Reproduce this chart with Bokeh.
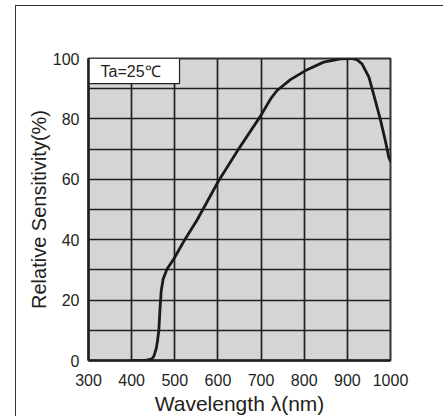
from bokeh.plotting import figure
from bokeh.models import FixedTicker, Range1d
from bokeh.core.properties import value
from bokeh.embed import file_html
from bokeh.resources import INLINE

# ---- data ----
wavelength = [400, 430, 447, 452, 457, 460, 463, 465.5, 468.5, 473, 482, 498,
              521, 552, 602, 648, 699, 722, 737, 768, 803, 845, 884, 910,
              923, 934, 950, 965, 977, 988, 996, 1000]
sensitivity = [0, 0, 0.5, 1.6, 4, 6.5, 10, 16.5, 23, 27, 30.3, 33.7,
               39.5, 46.6, 59.6, 70, 81, 86.6, 89.4, 93, 96, 98.8, 99.9, 100,
               99.5, 98.2, 93.8, 86, 79.5, 72.8, 67.3, 66]
x_ticks = [300, 400, 500, 600, 700, 800, 900, 1000]
y_ticks = [0, 20, 40, 60, 80, 100]
y_grid = [0, 10, 20, 30, 40, 50, 60, 70, 80, 90, 100]
condition_label = "Ta=25℃"

FONT = "Liberation Sans"
TEXT = "#231f20"
GRID = "#231f20"

p = figure(width=428, height=411, output_backend="svg", toolbar_location=None,
           x_range=Range1d(300, 1000), y_range=Range1d(0, 100),
           min_border_left=72, min_border_right=54, min_border_top=52,
           min_border_bottom=57)

# outer panel frame (left/top edges visible in the window)
p.styles = {"margin-left": "15px", "margin-top": "5px",
            "border-left": "1.5px solid #333333",
            "border-top": "1.5px solid #333333"}

p.background_fill_color = "#d4d5d7"
p.border_fill_color = "white"
p.outline_line_color = "#333333"
p.outline_line_width = 2

p.xaxis.ticker = FixedTicker(ticks=x_ticks)
p.yaxis.ticker = FixedTicker(ticks=y_ticks)
p.xgrid.ticker = FixedTicker(ticks=x_ticks)
p.ygrid.ticker = FixedTicker(ticks=y_grid)
for g in (p.xgrid, p.ygrid):
    g.grid_line_color = GRID
    g.grid_line_width = 1.7
    g.level = "underlay"

for ax in (p.xaxis, p.yaxis):
    ax.major_tick_line_color = None
    ax.minor_tick_line_color = None
    ax.axis_line_color = "#231f20"
    ax.axis_line_width = 2.5
    ax.major_label_text_font = FONT
    ax.major_label_text_font_size = "16px"
    ax.major_label_text_color = TEXT
    ax.axis_label_text_font = FONT
    ax.axis_label_text_font_style = "normal"
    ax.axis_label_text_color = TEXT

p.xaxis.axis_label = "Wavelength λ(nm)"
p.yaxis.axis_label = "Relative Sensitivity(%)"
p.xaxis.axis_label_text_font_size = "21px"
p.yaxis.axis_label_text_font_size = "20px"
p.xaxis.major_label_standoff = 7
p.xaxis.axis_label_standoff = 3
p.yaxis.major_label_standoff = 3
p.yaxis.axis_label_standoff = 0

# condition box
p.quad(left=300, right=511, bottom=91.7, top=100, fill_color="white",
       line_color="#231f20", line_width=1.2)
p.text(x=[328], y=[95.8], text=[condition_label], text_font=value(FONT),
       text_font_size="16px", text_color=TEXT, text_baseline="middle",
       text_align="left")

# curve
p.line(wavelength, sensitivity, line_color="#1a1a1a", line_width=2.8,
       line_join="round", line_cap="round")

open("out.html", "w").write(file_html(p, INLINE))
